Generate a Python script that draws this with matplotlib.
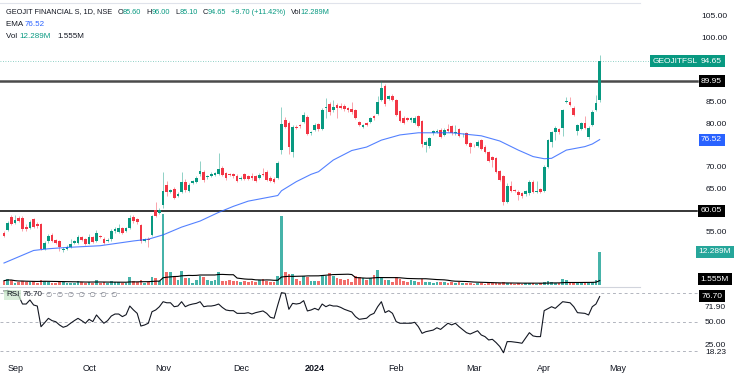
import matplotlib
matplotlib.use('Agg')
import matplotlib.pyplot as plt
import matplotlib.transforms as mtransforms
import numpy as np
import pandas as pd

# ---- data (one entry per trading day, Aug 29 2023 -> Apr 2024) ----
opens = [55.0, 55.7, 58.7, 57.3, 58.3, 58.4, 56.4, 56.0, 58.1, 57.0,
         57.0, 51.2, 53.0, 54.5, 53.3, 53.2, 51.0, 51.2, 51.6, 52.6,
         52.7, 54.0, 53.5, 52.5, 54.0, 53.0, 54.2, 53.6, 53.0, 53.5,
         55.3, 55.2, 56.0, 55.4, 56.0, 58.7, 58.1, 56.8, 53.1, 53.6,
         54.5, 60.3, 59.6, 61.3, 66.1, 64.4, 65.1, 63.5, 64.4, 66.7,
         64.6, 66.5, 66.8, 68.5, 69.1, 67.8, 68.2, 68.4, 68.5, 70.0,
         68.8, 68.6, 68.5, 68.2, 67.4, 68.6, 68.0, 68.2, 68.0, 67.7,
         68.6, 69.1, 67.7, 67.5, 67.7, 74.1, 81.1, 80.3, 73.7, 79.4,
         79.8, 80.7, 81.8, 78.0, 78.8, 80.1, 79.0, 83.8, 84.8, 83.3,
         84.6, 84.2, 84.4, 83.8, 83.7, 83.4, 80.6, 79.5, 80.4, 80.6,
         82.0, 82.4, 85.7, 89.0, 86.0, 86.7, 85.6, 83.1, 81.6, 81.4,
         81.0, 80.4, 82.0, 80.8, 75.3, 75.1, 78.0, 78.3, 78.8, 77.6,
         78.9, 79.7, 78.0, 79.0, 77.5, 78.0, 75.7, 75.1, 75.1, 76.4,
         74.9, 73.7, 72.4, 72.2, 69.3, 68.0, 62.2, 65.9, 64.9, 64.5,
         64.2, 63.9, 64.1, 66.8, 64.4, 65.0, 64.7, 70.3, 75.9, 78.2,
         79.0, 79.1, 85.3, 85.1, 83.9, 78.5, 79.0, 80.3, 77.2, 79.9,
         83.4, 85.6]
closes = [54.3, 57.2, 57.0, 58.0, 57.8, 55.8, 55.8, 57.4, 56.4, 56.6,
          51.2, 52.7, 54.3, 53.0, 52.7, 51.8, 51.2, 51.8, 52.3, 53.0,
          54.0, 53.3, 52.5, 54.0, 52.8, 55.0, 54.0, 52.7, 53.4, 55.5,
          55.8, 56.0, 55.0, 56.0, 58.4, 57.6, 57.4, 53.0, 53.5, 53.3,
          58.9, 58.9, 60.3, 64.7, 64.4, 64.8, 63.1, 63.9, 66.7, 64.8,
          66.1, 66.9, 67.7, 69.3, 67.2, 68.0, 68.5, 68.7, 69.7, 68.4,
          67.6, 68.3, 68.0, 67.0, 67.7, 67.4, 67.4, 67.6, 67.0, 68.4,
          68.4, 67.2, 67.0, 66.8, 71.1, 80.1, 79.5, 74.9, 79.5, 79.2,
          79.6, 82.1, 77.8, 78.3, 80.0, 79.0, 83.4, 84.1, 82.8, 84.1,
          83.9, 83.8, 83.5, 83.3, 82.8, 81.5, 79.9, 79.9, 79.9, 81.4,
          81.4, 85.3, 88.5, 84.7, 86.6, 85.7, 82.2, 80.8, 80.4, 81.1,
          81.5, 81.6, 79.7, 75.5, 76.0, 76.8, 78.4, 78.6, 77.2, 78.8,
          78.6, 78.0, 78.3, 77.4, 77.7, 75.5, 74.7, 75.0, 76.0, 74.4,
          73.7, 71.6, 71.9, 69.0, 67.2, 62.2, 65.9, 64.7, 64.6, 63.7,
          63.4, 64.6, 66.8, 64.4, 64.6, 64.4, 70.3, 76.4, 78.2, 79.3,
          78.2, 83.4, 85.5, 84.5, 82.2, 79.9, 80.3, 79.2, 79.3, 83.0,
          84.95, 94.65]
highs = [55.4, 57.6, 59.2, 59.0, 58.8, 58.8, 57.0, 58.0, 58.5, 57.4,
         57.3, 53.0, 54.8, 54.9, 53.6, 53.4, 51.6, 52.1, 53.5, 53.4,
         54.4, 54.3, 53.8, 54.6, 54.2, 55.6, 54.5, 53.9, 53.7, 55.8,
         56.4, 57.0, 56.3, 56.3, 59.0, 59.0, 58.4, 57.0, 53.8, 53.9,
         59.2, 62.0, 60.6, 69.1, 67.0, 65.2, 65.5, 64.3, 69.1, 67.4,
         66.5, 67.2, 68.1, 71.6, 69.4, 68.4, 69.0, 69.1, 73.4, 70.4,
         69.1, 68.9, 68.8, 68.5, 68.0, 68.9, 68.3, 68.9, 68.3, 68.7,
         69.9, 69.4, 68.0, 67.8, 71.6, 84.1, 81.8, 80.9, 79.9, 79.8,
         80.1, 82.9, 82.2, 78.6, 80.4, 80.4, 83.8, 86.2, 85.1, 85.7,
         84.9, 85.0, 84.7, 84.1, 85.1, 83.7, 80.9, 80.2, 80.7, 81.7,
         82.3, 86.5, 90.1, 89.3, 86.9, 87.0, 85.9, 83.4, 81.9, 81.7,
         81.8, 81.9, 82.3, 81.1, 76.4, 77.1, 78.7, 79.0, 79.1, 79.1,
         80.2, 80.0, 79.9, 79.3, 78.0, 78.3, 76.0, 75.4, 76.4, 76.7,
         75.2, 74.0, 72.7, 72.5, 69.6, 68.3, 66.6, 66.9, 65.2, 64.8,
         64.5, 64.9, 67.1, 67.2, 66.9, 65.3, 70.6, 76.7, 78.5, 79.6,
         79.3, 83.7, 86.3, 86.4, 84.2, 80.2, 80.6, 81.9, 79.6, 83.3,
         86.8, 96.0]
lows = [53.9, 55.3, 56.8, 57.0, 57.5, 55.4, 55.4, 55.8, 56.0, 56.2,
        51.0, 51.0, 52.6, 52.8, 52.4, 50.8, 50.6, 51.0, 51.4, 52.3,
        52.5, 53.0, 52.2, 52.3, 52.6, 52.8, 53.7, 52.4, 52.8, 53.2,
        55.0, 55.0, 54.8, 55.2, 55.8, 57.3, 57.0, 52.6, 52.9, 51.8,
        54.3, 58.6, 59.3, 60.7, 63.6, 64.1, 62.9, 63.2, 64.2, 64.5,
        64.3, 66.2, 66.5, 68.2, 66.8, 67.5, 67.9, 68.1, 68.3, 68.0,
        67.3, 68.0, 67.7, 66.8, 67.2, 67.1, 67.1, 67.3, 66.8, 67.4,
        68.1, 66.9, 66.7, 66.5, 67.4, 73.1, 79.2, 73.1, 72.6, 78.9,
        79.3, 80.4, 77.5, 77.7, 78.5, 78.6, 78.8, 81.6, 82.1, 83.0,
        81.5, 83.5, 83.2, 83.0, 82.5, 81.2, 79.6, 79.2, 79.6, 80.3,
        81.1, 82.1, 85.4, 84.4, 85.7, 85.4, 81.9, 80.5, 80.1, 80.8,
        80.7, 80.1, 79.4, 74.9, 73.7, 74.6, 77.7, 78.0, 76.9, 77.3,
        78.3, 77.7, 77.7, 77.1, 77.2, 75.2, 73.5, 74.7, 74.8, 74.1,
        73.4, 71.3, 70.3, 68.7, 66.9, 61.3, 61.8, 64.4, 64.3, 62.5,
        63.1, 63.6, 63.8, 64.1, 64.1, 64.1, 64.4, 70.0, 74.8, 76.4,
        77.9, 77.3, 85.0, 84.2, 81.9, 77.5, 78.7, 78.9, 76.6, 79.6,
        83.1, 85.1]
# volume in millions
volume = [1.6, 2.1, 1.8, 0.9, 1.0, 1.4, 1.0, 1.2, 1.3, 0.8,
          1.8, 1.6, 1.1, 0.9, 0.8, 1.4, 1.0, 0.9, 0.8, 0.7,
          1.3, 1.0, 0.9, 1.1, 0.8, 1.8, 0.9, 1.0, 0.8, 1.3,
          1.0, 1.2, 0.9, 0.8, 3.1, 1.6, 1.2, 2.0, 0.9, 1.0,
          3.0, 2.7, 1.5, 26.1, 4.7, 4.7, 3.0, 1.8, 5.2, 2.7,
          2.7, 0.6, 1.8, 3.4, 3.0, 1.8, 1.5, 1.8, 4.7, 1.5,
          1.5, 1.8, 1.5, 1.5, 1.0, 1.5, 1.2, 1.5, 1.0, 1.8,
          2.2, 1.5, 1.2, 1.2, 3.4, 25.6, 4.7, 3.9, 3.9, 2.2,
          1.5, 3.3, 3.0, 1.5, 1.5, 1.5, 3.7, 3.4, 4.3, 3.4,
          2.7, 2.2, 1.8, 2.2, 1.0, 3.4, 3.0, 2.7, 1.8, 2.7,
          3.7, 5.5, 3.0, 1.8, 1.8, 1.0, 3.0, 2.2, 1.5, 1.2,
          1.8, 1.5, 1.2, 2.2, 1.2, 1.2, 0.7, 1.2, 1.0, 1.2,
          0.7, 1.0, 0.6, 1.0, 0.7, 0.8, 0.6, 0.5, 0.6, 0.7,
          0.5, 0.6, 0.8, 0.6, 0.7, 1.0, 0.9, 0.6, 0.5, 0.6,
          0.5, 0.6, 0.9, 0.8, 0.5, 0.6, 1.0, 1.5, 1.2, 0.9,
          0.7, 2.3, 2.0, 0.9, 0.8, 0.7, 0.9, 0.6, 0.7, 1.2,
          1.8, 12.289]

# EMA read at sampled bars
ema_idx = [0, 8, 12, 17, 26, 35, 39, 43, 48, 53, 58, 62, 66, 74, 75, 79, 83, 85,
           89, 94, 98, 102, 107, 112, 121, 129, 134, 139, 143, 146, 148, 152, 157, 159, 161]
ema_val = [48.0, 50.9, 51.3, 51.6, 52.0, 53.1, 53.5, 54.5, 56.3, 57.7, 59.7, 61.1, 62.3, 63.6, 64.7, 66.8, 68.5, 69.1,
           71.8, 74.0, 74.8, 76.4, 77.6, 78.1, 78.1, 77.4, 76.2, 74.1, 72.6, 72.1, 72.2, 74.1, 74.9, 75.5, 76.52]

# RSI read at sampled bars
rsi_idx = [0, 1, 2, 3, 4, 5, 6, 7, 8, 9, 10, 11, 12, 13, 14, 15, 16, 17, 18, 19,
           20, 21, 22, 23, 24, 25, 26, 27, 28, 29, 30, 31, 32, 33, 34, 35, 36, 37, 38, 39,
           40, 41, 42, 43, 44, 45, 46, 47, 48, 49, 50, 51, 52, 53, 54, 55, 56, 57, 58, 59,
           60, 61, 62, 63, 64, 65, 66, 67, 68, 70, 71, 72, 73, 74, 75, 76, 77, 78, 79, 80,
           81, 82, 83, 84, 85, 86, 87, 88, 89, 90, 91, 92, 94, 95, 96, 98, 99, 100, 101, 102,
           103, 104, 105, 106, 107, 109, 110, 111, 112, 113, 114, 116, 117, 118, 120, 121, 122, 123, 125, 126,
           128, 129, 130, 131, 132, 133, 134, 135, 136, 137, 139, 140, 142, 143, 144, 145, 146, 148, 149, 151,
           153, 154, 155, 157, 158, 159, 160, 161]
rsi_val = [82.5, 83.0, 81.5, 79.5, 77.2, 68.9, 68.9, 73.1, 67.9, 66.8, 45.3, 49.5, 54.0, 51.6, 50.5, 47.1, 44.7, 46.0, 48.9, 51.6,
           54.0, 51.6, 48.9, 53.0, 50.6, 57.5, 53.0, 48.9, 51.6, 56.4, 58.5, 58.5, 55.8, 57.8, 66.8, 62.7, 59.2, 46.0, 47.1, 48.9,
           60.9, 62.7, 66.1, 71.3, 70.2, 70.2, 66.1, 66.8, 71.3, 66.1, 67.9, 68.9, 69.6, 71.3, 66.1, 66.8, 66.8, 67.5, 68.9, 65.4,
           62.7, 62.0, 62.0, 59.2, 59.2, 59.2, 59.9, 58.5, 59.9, 61.7, 59.2, 55.1, 54.1, 67.9, 80.7, 80.0, 63.4, 69.6, 68.9, 69.6,
           72.4, 61.7, 62.7, 64.4, 62.7, 68.9, 66.1, 67.9, 66.8, 66.8, 65.4, 63.4, 60.6, 55.8, 53.0, 54.1, 57.5, 59.2, 66.1, 71.3,
           60.0, 62.0, 59.2, 50.6, 48.9, 48.9, 48.9, 49.9, 45.3, 38.4, 40.1, 41.8, 44.2, 42.5, 48.9, 47.2, 48.9, 45.3, 39.1, 37.7,
           41.1, 36.7, 35.0, 31.5, 32.2, 28.8, 24.7, 18.23, 29.8, 29.8, 28.8, 28.1, 39.1, 35.7, 35.0, 35.0, 62.0, 66.1, 64.4, 71.3,
           70.2, 66.1, 59.9, 59.2, 57.5, 66.1, 68.9, 76.70]

month_pos = [3, 23, 43, 64, 84, 106, 127, 146, 166]
month_lbl = ['Sep', 'Oct', 'Nov', 'Dec', '2024', 'Feb', 'Mar', 'Apr', 'May']
price_ticks = [105, 100, 85, 80, 70, 65, 55]
level_hi = 89.95
level_lo = 60.05

# ---- style ----
W, H = 738, 377
UP = '#089981'
DOWN = '#f23645'
VUP = '#26a69a'
VDOWN = '#ef5350'
BLUE = '#2962ff'
TXT = '#131722'
FONT = ['Liberation Sans', 'DejaVu Sans']
plt.rcParams['font.family'] = FONT

fig = plt.figure(figsize=(W / 100, H / 100), dpi=100)
fig.patch.set_facecolor('white')

def px(xp, yp):
    return xp / W, 1 - yp / H

axp = fig.add_axes([0, 1 - 286 / H, 640 / W, (286 - 3) / H])
axv = axp.twinx()
axr = fig.add_axes([0, 1 - 362 / H, 640 / W, (362 - 287) / H])

n = len(closes)
x = np.arange(n)
o = np.array(opens)
c = np.array(closes)
hi = np.array(highs)
lo = np.array(lows)
up = c >= o

# volume (behind candles)
vcol = [VUP if u else VDOWN for u in up]
axv.bar(x, volume, width=0.72, color=vcol, alpha=0.85, zorder=1)
vol_ma = pd.Series(volume).rolling(20, min_periods=1).mean()
axv.plot(x, vol_ma, color='black', lw=0.8, zorder=2)
axv.set_ylim(-0.37, 104.06)
axv.axis('off')

axp.set_zorder(axv.get_zorder() + 1)
axp.patch.set_visible(False)

# candles
ccol = [UP if u else DOWN for u in up]
axp.vlines(x, lo, hi, colors=ccol, lw=0.7, alpha=0.45, zorder=3)
body_lo = np.minimum(o, c)
body_h = np.maximum(np.abs(c - o), 0.15)
axp.bar(x, body_h, bottom=body_lo, width=0.72, color=ccol, zorder=4)

# EMA
axp.plot(ema_idx, ema_val, color=BLUE, lw=0.8, alpha=0.8, zorder=5)

# horizontal levels
axp.axhline(level_hi, xmin=0, xmax=697 / 640, color='#4a4a4a', lw=1.8, clip_on=False, zorder=2)
axp.axhline(level_lo, xmin=0, xmax=697 / 640, color='black', lw=1.1, clip_on=False, zorder=2)
axp.axhline(closes[-1], xmin=0, xmax=654 / 640, color=UP, lw=0.6, ls=(0, (1, 2)), alpha=0.6, clip_on=False)

axp.set_xlim(-1.08, 171.9)
axp.set_ylim(42.69, 108.09)
axp.set_xticks([])
axp.set_yticks([])
for s in ['left', 'right', 'bottom']:
    axp.spines[s].set_visible(False)
axp.spines['top'].set_color('#e0e3eb')

# RSI pane
axr.plot(rsi_idx, rsi_val, color=TXT, lw=0.8, zorder=3)
ri = np.array(rsi_idx, dtype=float)
rv = np.array(rsi_val)
axr.fill_between(ri, 80, rv, where=rv > 80, interpolate=True, color='#4caf50', alpha=0.25, lw=0)
axr.fill_between(ri, 20, rv, where=rv < 20, interpolate=True, color=DOWN, alpha=0.25, lw=0)
for lvl in [80, 50, 20]:
    axr.axhline(lvl, xmin=0, xmax=698 / 640, color='#b2b5be', lw=0.7, ls=(0, (3, 3)), clip_on=False)
axr.set_xlim(-1.08, 171.9)
axr.set_ylim(8.6, 86.6)
axr.set_yticks([])
axr.set_xticks(month_pos)
axr.set_xticklabels(month_lbl)
axr.tick_params(axis='x', length=0, pad=1.5, labelsize=6.5, colors=TXT)
for t in axr.get_xticklabels():
    if t.get_text() == '2024':
        t.set_fontweight('bold')
for s in ['left', 'right', 'bottom']:
    axr.spines[s].set_visible(False)
axr.spines['top'].set_color('#d1d4dc')

# right scale labels
tp = mtransforms.blended_transform_factory(fig.transFigure, axp.transData)
tv = mtransforms.blended_transform_factory(fig.transFigure, axv.transData)
tr = mtransforms.blended_transform_factory(fig.transFigure, axr.transData)

for v in price_ticks:
    axp.text(727 / W, v, f'{v:.2f}', transform=tp, ha='right', va='center',
             fontsize=6, color=TXT, clip_on=False)

def box(tr_, xc, y, txt, fc, tc='white'):
    fig_ax = axp if tr_ is tp else (axv if tr_ is tv else axr)
    fig_ax.text(xc / W, y, txt, transform=tr_, ha='center', va='center', fontsize=6,
                color=tc, clip_on=False, zorder=10,
                bbox=dict(boxstyle='square,pad=0.3', fc=fc, ec='none'))

box(tp, 675, closes[-1], 'GEOJITFSL', UP)
box(tp, 711.5, closes[-1], f'{closes[-1]:.2f}', UP)
box(tp, 711.5, level_hi, f'{level_hi:.2f}', 'black')
box(tp, 711.5, ema_val[-1], f'{ema_val[-1]:.2f}', BLUE)
box(tp, 711.5, level_lo, f'{level_lo:.2f}', 'black')
box(tv, 715, volume[-1], '12.289M', VUP)
box(tv, 715, 2.2, '1.555M', 'black')
box(tr, 712, 77.2, '76.70', 'black')
for val, txt in [(64.8, '71.90'), (50.0, '50.00'), (25.9, '25.00'), (19.0, '18.23')]:
    axr.text(726 / W, val, txt, transform=tr, ha='right', va='center', fontsize=6,
             color=TXT, clip_on=False)

# legend texts (top-left)
renderer = fig.canvas.get_renderer()

def pieces(xp, yp, parts, size=5.3):
    for txt, col in parts:
        xf, yf = px(xp, yp)
        t = fig.text(xf, yf, txt, color=col, fontsize=size, ha='left', va='center')
        xp += t.get_window_extent(renderer).width
    return xp

# header line: groups chained with a small gap
xp = 6
for grp in [[('GEOJIT FINANCIAL S, 1D, NSE', TXT)],
            [('O', TXT), ('85.60', UP)],
            [('H', TXT), ('96.00', UP)],
            [('L', TXT), ('85.10', UP)],
            [('C', TXT), ('94.65', UP)],
            [('+9.70 (+11.42%)', UP)],
            [('Vol', TXT), ('12.289M', UP)]]:
    xp = pieces(xp, 12, grp) + 5
pieces(6, 24, [('EMA ', TXT), ('76.52', BLUE)], size=5.8)
pieces(6, 36, [('Vol ', TXT), ('12.289M', UP)], size=5.8)
pieces(57, 36, [('1.555M', TXT)], size=5.8)

# RSI legend
xf, yf = px(6, 295)
fig.text(xf, yf, 'RSI', fontsize=5.8, color=TXT, ha='left', va='center',
         bbox=dict(boxstyle='square,pad=0.2', fc='#c8e6c9', ec='none', alpha=0.7))
xf, yf = px(23, 295)
fig.text(xf, yf, '76.70', fontsize=5.8, color=TXT, ha='left', va='center')
xf, yf = px(46, 295)
fig.text(xf, yf, '\u2205  \u2205  \u2205  \u2205  \u2205  \u2205  \u2205', fontsize=5.2,
         color='#787b86', ha='left', va='center', family=['DejaVu Sans'])

fig.savefig('out.png', dpi=100, facecolor='white')
